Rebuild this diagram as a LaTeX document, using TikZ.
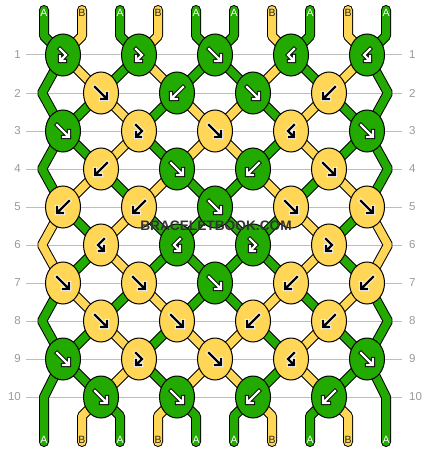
\documentclass[tikz,border=0pt]{standalone}
\usepackage{fontspec}
\setmainfont{Liberation Sans}
\usetikzlibrary{shapes.geometric}
\definecolor{gA}{HTML}{22AA00}
\definecolor{yB}{HTML}{FFD655}
\colorlet{cA}{gA}
\colorlet{cB}{yB}
\definecolor{gridc}{HTML}{BDBDBD}
\definecolor{numc}{HTML}{9A9A9A}
\definecolor{wmc}{HTML}{333333}
\colorlet{labcA}{white}
\colorlet{labcB}{black!85}
\tikzset{
  strand/.style={draw=black, line width=1pt, double=#1, double distance=8pt, line join=bevel},
  endstrand/.style={strand=#1, line cap=round},
  knot/.style={ellipse, draw=black, line width=1pt, minimum width=35pt, minimum height=42pt, inner sep=0pt},
  knotG/.style={fill=gA},
  knotY/.style={fill=yB},
  glyphG/.style={draw=black, double=white, line width=0.9pt, double distance=2.4pt, line cap=rect, line join=miter},
  glyphY/.style={draw=white, double=black, line width=0.9pt, double distance=2.4pt, line cap=rect, line join=miter},
  gridline/.style={draw=gridc, line width=1pt},
  rownum/.style={text=numc, inner sep=0pt, font=\fontsize{11.5}{12}\selectfont},
  lab/.style={inner sep=0pt, font=\fontsize{10.5}{11}\selectfont},
  wm/.style={font=\fontsize{13.7}{14}\selectfont\bfseries, inner sep=0pt}
}
\newcommand\glyphf[1]{\draw[#1] (-6,-6)--(5.5,5.5) (6,0)--(6,6)--(0,6);}
\newcommand\glyphb[1]{\draw[#1] (6,-6)--(-5.5,5.5) (-6,0)--(-6,6)--(0,6);}
\newcommand\glyphfb[1]{\draw[#1] (-3,-6)--(3,0)--(-2.5,5.5) (-3,1)--(-3,6)--(2,6);}
\newcommand\glyphbf[1]{\draw[#1] (3,-6)--(-3,0)--(2.5,5.5) (3,1)--(3,6)--(-2,6);}
\newcommand\Knot[4]{%
  \ifodd#1\relax\pgfmathsetmacro\kx{63+76*#2}\else\pgfmathsetmacro\kx{101+76*#2}\fi
  \pgfmathsetmacro\ky{55+38*(#1-1)}%
  \node[knot,knot#3] (k-#1-#2) at (\kx,\ky) {};
  \begin{scope}[shift={(k-#1-#2.center)}]
    \csname glyph#4\endcsname{glyph#3}
  \end{scope}}
\expandafter\def\csname rowlist0\endcsname{A,B,A,B,A,A,B,A,B,A}
\expandafter\def\csname rowlist1\endcsname{A,B,A,B,A,A,B,A,B,A}
\expandafter\def\csname rowlist2\endcsname{A,A,B,A,B,B,A,B,A,A}
\expandafter\def\csname rowlist3\endcsname{A,A,B,A,B,B,A,B,A,A}
\expandafter\def\csname rowlist4\endcsname{A,B,A,B,A,A,B,A,B,A}
\expandafter\def\csname rowlist5\endcsname{B,A,B,A,A,A,A,B,A,B}
\expandafter\def\csname rowlist6\endcsname{B,A,B,A,A,A,A,B,A,B}
\expandafter\def\csname rowlist7\endcsname{A,B,A,B,A,A,B,A,B,A}
\expandafter\def\csname rowlist8\endcsname{A,A,B,A,B,B,A,B,A,A}
\expandafter\def\csname rowlist9\endcsname{A,A,B,A,B,B,A,B,A,A}
\expandafter\def\csname rowlist10\endcsname{A,B,A,B,A,A,B,A,B,A}
\begin{document}
\begin{tikzpicture}[x=1pt,y=-1pt]
\useasboundingbox (0,0) rectangle (430,452);
\fill[white] (0,0) rectangle (430,452);
% string states
\foreach \r in {0,...,10}{
  \expandafter\let\expandafter\lst\csname rowlist\r\endcsname
  \foreach \c [count=\p from 0] in \lst {\expandafter\xdef\csname st-\r-\p\endcsname{\c}}
}
% grid lines and row numbers
\foreach \r in {1,...,10}{
  \pgfmathsetmacro\yy{55+38*(\r-1)}
  \draw[gridline] (26,\yy) -- (402,\yy);
  \node[rownum, anchor=east] (ln-\r) at (21,\yy) {\r};
  \node[rownum, anchor=west] (rn-\r) at (409,\yy) {\r};
}
% coordinates
\foreach \r in {1,...,10}{
  \pgfmathsetmacro\yy{55+38*(\r-1)}
  \foreach \p in {0,...,9}{
    \ifodd\r\relax
      \pgfmathsetmacro\xx{63+76*floor(\p/2)}
    \else
      \ifnum\p=0
        \ifnum\r=10 \def\xx{44}\else\def\xx{42}\fi
      \else\ifnum\p=9
        \ifnum\r=10 \def\xx{386}\else\def\xx{388}\fi
      \else
        \pgfmathsetmacro\xx{101+76*floor((\p-1)/2)}
      \fi\fi
    \fi
    \coordinate (c-\r-\p) at (\xx,\yy);
  }
}
\foreach \p in {0,...,9}{
  \pgfmathsetmacro\xx{44+38*\p}
  \coordinate (t-\p) at (\xx,10);
  \coordinate (tb-\p) at (\xx,36);
  \coordinate (bb-\p) at (\xx,416);
  \coordinate (b-\p) at (\xx,442);
}
% strands
\foreach \p in {0,...,9}{
  \edef\tmp{\noexpand\draw[endstrand=c\csname st-0-\p\endcsname] (t-\p) -- (tb-\p) -- (c-1-\p);}\tmp
}
\foreach \r in {1,...,9}{
  \pgfmathtruncatemacro\rn{\r+1}
  \foreach \p in {1,...,8}{
    \edef\tmp{\noexpand\draw[strand=c\csname st-\r-\p\endcsname] (c-\r-\p) -- (c-\rn-\p);}\tmp
  }
}
\foreach \r in {2,4,6,8}{
  \pgfmathtruncatemacro\rp{\r-1}
  \pgfmathtruncatemacro\rn{\r+1}
  \foreach \p in {0,9}{
    \edef\tmp{\noexpand\draw[strand=c\csname st-\r-\p\endcsname] (c-\rp-\p) -- (c-\r-\p) -- (c-\rn-\p);}\tmp
  }
}
\foreach \p in {0,9}{
  \edef\tmp{\noexpand\draw[endstrand=c\csname st-10-\p\endcsname] (c-9-\p) -- (c-10-\p) -- (b-\p);}\tmp
}
\foreach \p in {1,...,8}{
  \edef\tmp{\noexpand\draw[endstrand=c\csname st-10-\p\endcsname] (c-10-\p) -- (bb-\p) -- (b-\p);}\tmp
}
% end labels
\foreach \p in {0,...,9}{
  \pgfmathsetmacro\xx{44+38*\p}
  \edef\tmp{\noexpand\node[lab, text=labc\csname st-0-\p\endcsname] (tl-\p) at (\xx,13) {\csname st-0-\p\endcsname};}\tmp
  \edef\tmp{\noexpand\node[lab, text=labc\csname st-10-\p\endcsname] (bl-\p) at (\xx,440) {\csname st-10-\p\endcsname};}\tmp
}
% knots
\Knot{1}{0}{G}{fb} \Knot{1}{1}{G}{fb} \Knot{1}{2}{G}{f} \Knot{1}{3}{G}{bf} \Knot{1}{4}{G}{bf}
\Knot{2}{0}{Y}{f} \Knot{2}{1}{G}{b} \Knot{2}{2}{G}{f} \Knot{2}{3}{Y}{b}
\Knot{3}{0}{G}{f} \Knot{3}{1}{Y}{fb} \Knot{3}{2}{Y}{f} \Knot{3}{3}{Y}{bf} \Knot{3}{4}{G}{f}
\Knot{4}{0}{Y}{b} \Knot{4}{1}{G}{f} \Knot{4}{2}{G}{b} \Knot{4}{3}{Y}{f}
\Knot{5}{0}{Y}{b} \Knot{5}{1}{Y}{b} \Knot{5}{2}{G}{f} \Knot{5}{3}{Y}{f} \Knot{5}{4}{Y}{f}
\Knot{6}{0}{Y}{bf} \Knot{6}{1}{G}{bf} \Knot{6}{2}{G}{fb} \Knot{6}{3}{Y}{fb}
\Knot{7}{0}{Y}{f} \Knot{7}{1}{Y}{f} \Knot{7}{2}{G}{f} \Knot{7}{3}{Y}{b} \Knot{7}{4}{Y}{b}
\Knot{8}{0}{Y}{f} \Knot{8}{1}{Y}{f} \Knot{8}{2}{Y}{b} \Knot{8}{3}{Y}{b}
\Knot{9}{0}{G}{f} \Knot{9}{1}{Y}{fb} \Knot{9}{2}{Y}{f} \Knot{9}{3}{Y}{bf} \Knot{9}{4}{G}{f}
\Knot{10}{0}{G}{f} \Knot{10}{1}{G}{f} \Knot{10}{2}{G}{b} \Knot{10}{3}{G}{b}
% watermark
\node[wm, text=wmc] (wm) at (216,226) {BRACELETBOOK.COM};
\end{tikzpicture}
\end{document}
